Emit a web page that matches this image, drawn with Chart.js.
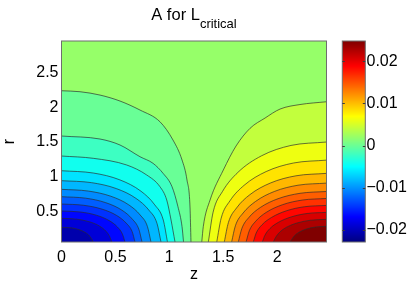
<!DOCTYPE html>
<html><head><meta charset="utf-8">
<script src="https://cdn.jsdelivr.net/npm/chart.js@4.4.1/dist/chart.umd.min.js"></script>
<style>html,body{margin:0;padding:0;background:#fff;overflow:hidden}</style>
</head><body>
<canvas id="c" width="415" height="283"></canvas>
<script>
// ---- axes / ticks ----
const zTicks = [0, 0.5, 1, 1.5, 2];
const rTicks = [0.5, 1, 1.5, 2, 2.5];
const cTicks = [-0.02, -0.01, 0, 0.01, 0.02];
const zRange = [0, 2.458];
const rRange = [0.065, 2.95];
const cRange = [-0.0229, 0.0248];

// ---- contour levels (outer -> inner) ----
const leftLevels  = [-0.000087, -0.002161, -0.004235, -0.006309, -0.008383, -0.010457, -0.012530, -0.014604, -0.016678, -0.018752, -0.020826];
const rightLevels = [0.001987, 0.004061, 0.006135, 0.008209, 0.010283, 0.012357, 0.014430, 0.016504, 0.018578, 0.020652, 0.022726];

// ---- contour lines [z, r] (outer -> inner) ----
const leftLines = [
  [[0,2.236],[0.172,2.222],[0.357,2.174],[0.543,2.088],[0.728,1.959],[0.913,1.791],[1.034,1.529],[1.118,1.242],[1.164,0.955],[1.192,0.567],[1.201,0.065]],
  [[0,1.586],[0.357,1.543],[0.543,1.457],[0.728,1.289],[0.849,1.194],[0.942,1.051],[1.025,0.859],[1.080,0.572],[1.118,0.285],[1.132,0.065]],
  [[0,1.299],[0.295,1.266],[0.605,1.170],[0.790,1.027],[0.913,0.859],[0.976,0.668],[1.016,0.381],[1.053,0.065]],
  [[0,1.088],[0.295,1.055],[0.541,0.957],[0.737,0.794],[0.865,0.598],[0.944,0.381],[0.983,0.065]],
  [[0,0.945],[0.277,0.917],[0.508,0.832],[0.692,0.690],[0.812,0.520],[0.886,0.331],[0.923,0.065]],
  [[0,0.821],[0.249,0.796],[0.457,0.722],[0.623,0.599],[0.730,0.452],[0.797,0.287],[0.830,0.065]],
  [[0,0.715],[0.224,0.694],[0.411,0.629],[0.560,0.522],[0.657,0.393],[0.717,0.250],[0.747,0.065]],
  [[0,0.610],[0.205,0.592],[0.375,0.537],[0.512,0.445],[0.600,0.336],[0.655,0.214],[0.682,0.065]],
  [[0,0.510],[0.177,0.495],[0.324,0.449],[0.442,0.372],[0.518,0.281],[0.565,0.179],[0.589,0.065]],
  [[0,0.405],[0.140,0.393],[0.256,0.356],[0.350,0.296],[0.410,0.223],[0.447,0.142],[0.466,0.065]],
  [[0,0.276],[0.089,0.268],[0.162,0.243],[0.221,0.201],[0.260,0.152],[0.283,0.097],[0.295,0.065]]
];
const rightLines = [
  [[1.301,0.065],[1.315,0.285],[1.378,0.668],[1.501,1.098],[1.619,1.443],[1.749,1.697],[1.888,1.844],[2.027,1.973],[2.212,2.038],[2.458,2.078]],
  [[1.362,0.065],[1.406,0.492],[1.494,0.792],[1.636,1.064],[1.855,1.302],[2.129,1.451],[2.458,1.50]],
  [[1.440,0.065],[1.481,0.407],[1.562,0.655],[1.694,0.879],[1.898,1.076],[2.153,1.199],[2.458,1.24]],
  [[1.510,0.065],[1.548,0.344],[1.624,0.554],[1.747,0.744],[1.937,0.911],[2.174,1.015],[2.458,1.05]],
  [[1.578,0.065],[1.613,0.298],[1.684,0.480],[1.798,0.645],[1.974,0.790],[2.194,0.880],[2.458,0.91]],
  [[1.640,0.065],[1.673,0.259],[1.738,0.417],[1.844,0.560],[2.008,0.686],[2.213,0.764],[2.458,0.79]],
  [[1.712,0.065],[1.742,0.226],[1.802,0.364],[1.898,0.489],[2.048,0.599],[2.234,0.667],[2.458,0.69]],
  [[1.779,0.065],[1.806,0.194],[1.860,0.312],[1.949,0.418],[2.085,0.512],[2.254,0.571],[2.458,0.59]],
  [[1.863,0.065],[1.887,0.161],[1.934,0.259],[2.012,0.347],[2.131,0.425],[2.279,0.474],[2.458,0.49]],
  [[1.965,0.065],[1.985,0.128],[2.024,0.206],[2.088,0.277],[2.187,0.339],[2.310,0.377],[2.458,0.39]],
  [[2.119,0.065],[2.133,0.095],[2.160,0.153],[2.204,0.206],[2.272,0.252],[2.356,0.280],[2.458,0.29]]
];

// ---- colour map (jet) ----
function jet(t){
  t = Math.max(0, Math.min(1, t));
  const f = x => Math.max(0, Math.min(1, 1.5 - Math.abs(4*t - x)));
  return 'rgb(' + Math.round(255*f(3)) + ',' + Math.round(255*f(2)) + ',' + Math.round(255*f(1)) + ')';
}
const norm = v => (v - cRange[0]) / (cRange[1] - cRange[0]);
// each filled band takes the colour of its upper level
const bgColor = jet(norm(rightLevels[0]));

const FONT = "'Liberation Sans', Arial, Helvetica, sans-serif";
const LINE = 'rgba(45,45,45,0.85)';
const TICK_FONT = { size: 16, family: FONT };

const datasets = [];
function addSide(lines, colourValues){
  lines.forEach((pts, i) => {
    datasets.push({
      data: pts.map(p => ({x: p[0], y: p[1]})),
      fill: 'start',
      backgroundColor: jet(norm(colourValues[i])),
      borderColor: LINE,
      borderWidth: 0.8,
      pointRadius: 0,
      cubicInterpolationMode: 'monotone',
      order: 100 - i
    });
  });
}
addSide(leftLines, leftLevels);
addSide(rightLines, rightLevels.slice(1).concat([cRange[1]]));

const fit = (w, h) => s => {
  if (w !== null) s.width = w;
  if (h !== null) s.height = h;
  s.paddingTop = 0; s.paddingBottom = 0; s.paddingLeft = 0; s.paddingRight = 0;
};
const fixTicks = list => scale => { scale.ticks = list.map(v => ({value: v})); };

const bgPlugin = {
  id: 'bg',
  beforeDatasetsDraw(chart){
    const {ctx, chartArea: a} = chart;
    ctx.save(); ctx.fillStyle = bgColor;
    ctx.fillRect(a.left, a.top, a.right - a.left, a.bottom - a.top);
    ctx.restore();
  }
};
const decoPlugin = {
  id: 'deco',
  afterDraw(chart){
    const {ctx, chartArea: a} = chart;
    const cb = chart.scales.cb;
    ctx.save();
    ctx.strokeStyle = 'rgb(110,110,110)'; ctx.lineWidth = 1;
    ctx.strokeRect(a.left, a.top, a.right - a.left, a.bottom - a.top);
    // colorbar
    const x0 = 342.3, x1 = 365.3;
    const yTop = cb.getPixelForValue(cRange[1]), yBot = cb.getPixelForValue(cRange[0]);
    for (let y = Math.floor(yTop); y < yBot; y++){
      const v = cb.getValueForPixel(y + 0.5);
      ctx.fillStyle = jet(norm(v));
      ctx.fillRect(x0, y, x1 - x0, 1);
    }
    ctx.strokeStyle = 'rgb(110,110,110)';
    ctx.strokeRect(x0, yTop, x1 - x0, yBot - yTop);
    ctx.strokeStyle = 'rgb(60,60,60)';
    cTicks.forEach(v => {
      const y = Math.round(cb.getPixelForValue(v)) + 0.5;
      ctx.beginPath();
      ctx.moveTo(x0, y); ctx.lineTo(x0 + 2.5, y);
      ctx.moveTo(x1, y); ctx.lineTo(x1 - 2.5, y);
      ctx.stroke();
    });
    // title with subscript
    ctx.fillStyle = '#000'; ctx.textBaseline = 'alphabetic';
    const main = 'A for L', sub = 'critical';
    ctx.font = '16.5px ' + FONT; const wMain = ctx.measureText(main).width;
    ctx.font = '13px ' + FONT; const wSub = ctx.measureText(sub).width;
    const start = (a.left + a.right) / 2 - (wMain + wSub) / 2;
    ctx.font = '16.5px ' + FONT; ctx.fillText(main, start, 19.5);
    ctx.font = '13px ' + FONT; ctx.fillText(sub, start + wMain, 28);
    ctx.restore();
  }
};

new Chart(document.getElementById('c'), {
  type: 'line',
  data: { datasets },
  options: {
    responsive: false,
    animation: false,
    events: [],
    layout: { padding: { left: 0, right: 0, top: 41, bottom: 0 } },
    plugins: { legend: { display: false }, tooltip: { enabled: false }, title: { display: false } },
    scales: {
      x: {
        type: 'linear', min: zRange[0], max: zRange[1],
        afterBuildTicks: fixTicks(zTicks),
        afterFit: fit(null, 41),
        grid: { display: false, drawTicks: false },
        border: { display: false },
        ticks: { padding: 6, color: '#000', font: TICK_FONT, maxRotation: 0, autoSkip: false, callback: v => String(v) },
        title: { display: true, text: 'z', color: '#000', font: TICK_FONT, padding: { top: 0, bottom: -1.5 } }
      },
      y: {
        type: 'linear', position: 'left', min: rRange[0], max: rRange[1],
        afterBuildTicks: fixTicks(rTicks),
        afterFit: fit(61.5, null),
        grid: { display: false, drawTicks: false },
        border: { display: false },
        ticks: { padding: 3, color: '#000', font: TICK_FONT, autoSkip: false, callback: v => String(v) },
        title: { display: true, text: 'r', color: '#000', font: TICK_FONT, padding: { top: 0, bottom: 0 } }
      },
      cb: {
        type: 'linear', position: 'right', min: cRange[0], max: cRange[1],
        afterBuildTicks: fixTicks(cTicks),
        afterFit: fit(88.5, null),
        grid: { display: false, drawTicks: false },
        border: { display: false },
        ticks: { padding: 40, color: '#000', font: TICK_FONT, autoSkip: false,
                 callback: v => (v < 0 ? '\u2212' : '') + String(Math.abs(v)) }
      }
    }
  },
  plugins: [bgPlugin, decoPlugin]
});
</script>
</body></html>
